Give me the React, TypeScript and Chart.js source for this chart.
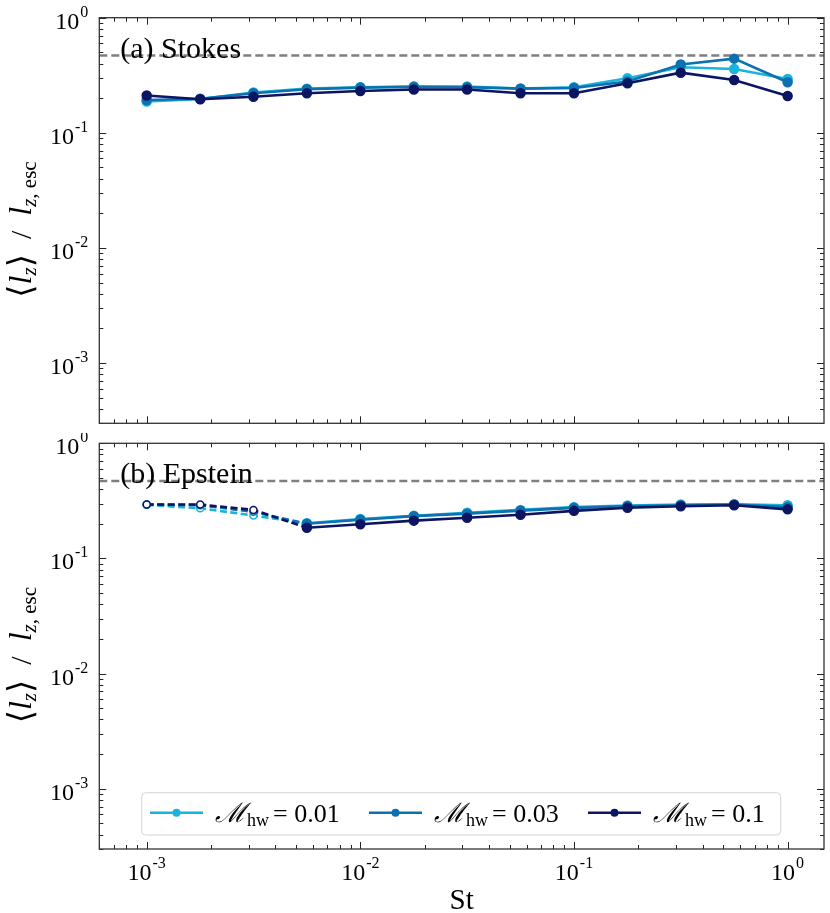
import React, { useRef, useEffect } from "react";
import Chart from "chart.js/auto";

// Stokes number grid (shared by both panels)
const stValues = [0.001, 0.00178, 0.00316, 0.00562, 0.01, 0.0178, 0.0316, 0.0562, 0.1, 0.178, 0.316, 0.562, 1];

const machLabels = ["0.01", "0.03", "0.1"];
const seriesColors = ["#19b4dc", "#0b71b0", "#0c1562"];

// (a) Stokes
const stokesM001 = [0.187, 0.197, 0.224, 0.242, 0.249, 0.252, 0.252, 0.243, 0.249, 0.298, 0.371, 0.359, 0.294];
const stokesM003 = [0.193, 0.198, 0.221, 0.239, 0.247, 0.251, 0.249, 0.242, 0.245, 0.279, 0.392, 0.441, 0.275];
const stokesM01 = [0.211, 0.196, 0.206, 0.221, 0.231, 0.238, 0.238, 0.221, 0.221, 0.27, 0.333, 0.288, 0.209];

// (b) Epstein (first three points are open markers, dashed)
const epsteinM001 = [0.292, 0.273, 0.236, 0.202, 0.22, 0.235, 0.249, 0.264, 0.279, 0.288, 0.294, 0.296, 0.29];
const epsteinM003 = [0.294, 0.29, 0.254, 0.2, 0.217, 0.233, 0.245, 0.26, 0.275, 0.284, 0.29, 0.294, 0.279];
const epsteinM01 = [0.294, 0.294, 0.264, 0.185, 0.198, 0.213, 0.226, 0.24, 0.259, 0.276, 0.284, 0.29, 0.267];
const openPoints = 3;

const escapeRef = 0.47;
const xMin = 6e-4;
const xMax = 1.48;
const yMin = 3.0e-4;
const yMax = 1;
const xTickExps = [-3, -2, -1, 0];
const yTickExps = [0, -1, -2, -3];

const SERIF = '"Liberation Serif", "Times New Roman", "DejaVu Serif", serif';

const drawPow = (ctx: CanvasRenderingContext2D, exp: number, x: number, baseline: number, align: "center" | "right") => {
  ctx.font = `24px ${SERIF}`;
  const w1 = ctx.measureText("10").width;
  ctx.font = `16px ${SERIF}`;
  const expText = exp < 0 ? `-${-exp}` : `${exp}`;
  const w2 = ctx.measureText(expText).width;
  const total = w1 + w2 + 1;
  const start = align === "center" ? x - total / 2 : x - total;
  ctx.textAlign = "left";
  ctx.textBaseline = "alphabetic";
  ctx.font = `24px ${SERIF}`;
  ctx.fillText("10", start, baseline);
  ctx.font = `16px ${SERIF}`;
  ctx.fillText(expText, start + w1 + 1, baseline - 12);
};

const drawPieces = (ctx: CanvasRenderingContext2D, pieces: { t: string; font: string; dy: number }[], cx: number) => {
  let total = 0;
  for (const p of pieces) {
    ctx.font = p.font;
    total += ctx.measureText(p.t).width;
  }
  let x = cx - total / 2;
  ctx.textAlign = "left";
  ctx.textBaseline = "alphabetic";
  for (const p of pieces) {
    ctx.font = p.font;
    ctx.fillText(p.t, x, p.dy);
    x += ctx.measureText(p.t).width;
  }
};

const makeFramePlugin = (panelLabel: string, showXLabels: boolean, showLegend: boolean) => ({
  id: "frame",
  afterDraw(chart: any) {
    const { ctx, chartArea: a, scales } = chart;
    const x = scales.x;
    const y = scales.y;
    ctx.save();
    ctx.strokeStyle = "#222";
    ctx.lineWidth = 1;
    ctx.beginPath();
    for (let e = -4; e <= 1; e++) {
      for (let m = 1; m <= 9; m++) {
        const v = m * Math.pow(10, e);
        if (v >= xMin && v <= xMax) {
          const px = Math.round(x.getPixelForValue(v)) + 0.5;
          const len = m === 1 ? 7 : 4;
          ctx.moveTo(px, a.bottom);
          ctx.lineTo(px, a.bottom - len);
          ctx.moveTo(px, a.top);
          ctx.lineTo(px, a.top + len);
        }
        if (v >= yMin && v <= yMax) {
          const py = Math.round(y.getPixelForValue(v)) + 0.5;
          const len = m === 1 ? 7 : 4;
          ctx.moveTo(a.left, py);
          ctx.lineTo(a.left + len, py);
          ctx.moveTo(a.right, py);
          ctx.lineTo(a.right - len, py);
        }
      }
    }
    ctx.stroke();
    ctx.lineWidth = 1.3;
    ctx.strokeStyle = "#333";
    ctx.strokeRect(a.left, a.top, a.right - a.left, a.bottom - a.top);

    ctx.fillStyle = "#000";
    for (const e of yTickExps) {
      const py = y.getPixelForValue(Math.pow(10, e));
      drawPow(ctx, e, a.left - 11, py + 11, "right");
    }
    if (showXLabels) {
      for (const e of xTickExps) {
        const px = x.getPixelForValue(Math.pow(10, e));
        drawPow(ctx, e, px, a.bottom + 31, "center");
      }
      ctx.font = `29px ${SERIF}`;
      ctx.textAlign = "center";
      ctx.fillText("St", (a.left + a.right) / 2, a.bottom + 60);
    }

    // panel label
    ctx.font = `30px ${SERIF}`;
    ctx.textAlign = "left";
    ctx.fillText(panelLabel, a.left + 21, a.top + 40);

    // y-axis title
    ctx.save();
    ctx.translate(31, (a.top + a.bottom) / 2 + 9);
    ctx.rotate(-Math.PI / 2);
    const big = `34px ${SERIF}`;
    const bigI = `italic 32px ${SERIF}`;
    const mid = `30px ${SERIF}`;
    const subI = `italic 21px ${SERIF}`;
    const sub = `21px ${SERIF}`;
    drawPieces(
      ctx,
      [
        { t: "⟨", font: big, dy: 1 },
        { t: "l", font: bigI, dy: 0 },
        { t: "z", font: subI, dy: 5 },
        { t: "⟩", font: big, dy: 1 },
        { t: "  /  ", font: mid, dy: 0 },
        { t: "l", font: bigI, dy: 0 },
        { t: "z", font: subI, dy: 5 },
        { t: ", esc", font: sub, dy: 5 },
      ],
      0
    );
    ctx.restore();

    if (showLegend) {
      const bx = a.left + 42.4;
      const by = a.bottom - 56.3;
      const bw = 639;
      const bh = 42.3;
      ctx.beginPath();
      ctx.roundRect(bx, by, bw, bh, 4);
      ctx.fillStyle = "rgba(255,255,255,0.85)";
      ctx.fill();
      ctx.strokeStyle = "#d4d4d4";
      ctx.lineWidth = 1;
      ctx.stroke();
      const ly = by + 20;
      machLabels.forEach((lab, i) => {
        const x0 = bx + 8.3 + i * 219;
        ctx.strokeStyle = seriesColors[i];
        ctx.lineWidth = 2.6;
        ctx.beginPath();
        ctx.moveTo(x0, ly);
        ctx.lineTo(x0 + 53, ly);
        ctx.stroke();
        ctx.fillStyle = seriesColors[i];
        ctx.beginPath();
        ctx.arc(x0 + 26.5, ly, 4, 0, Math.PI * 2);
        ctx.fill();
        ctx.fillStyle = "#000";
        let tx = x0 + 65;
        const base = ly + 9;
        ctx.textAlign = "left";
        ctx.font = `italic 27px ${SERIF}`;
        ctx.fillText("ℳ", tx, base);
        tx += ctx.measureText("ℳ").width + 1;
        ctx.font = `18px ${SERIF}`;
        ctx.fillText("hw", tx, base + 4);
        tx += ctx.measureText("hw").width + 4;
        ctx.font = `26px ${SERIF}`;
        ctx.fillText("= " + lab, tx, base);
      });
    }
    ctx.restore();
  },
});

const buildDatasets = (series: number[][], dashedOpen: boolean) => {
  const sets: any[] = series.map((vals, i) => ({
    label: `M_hw = ${machLabels[i]}`,
    data: stValues.map((s, j) => ({ x: s, y: vals[j] })),
    borderColor: seriesColors[i],
    backgroundColor: seriesColors[i],
    borderWidth: 2.6,
    pointRadius: dashedOpen ? stValues.map((_, j) => (j < openPoints ? 3.5 : 4.5)) : 4.5,
    pointBorderWidth: 1.5,
    pointBackgroundColor: dashedOpen
      ? stValues.map((_, j) => (j < openPoints ? "#ffffff" : seriesColors[i]))
      : seriesColors[i],
    pointBorderColor: seriesColors[i],
    tension: 0,
    order: 3 - i,
    segment: dashedOpen
      ? { borderDash: (c: any) => (c.p0DataIndex < openPoints ? [7, 3.5] : undefined) }
      : undefined,
  }));
  sets.push({
    label: "escape",
    data: [
      { x: xMin, y: escapeRef },
      { x: xMax, y: escapeRef },
    ],
    borderColor: "#7f7f7f",
    borderDash: [8, 4],
    borderWidth: 2.4,
    pointRadius: 0,
    order: 5,
  });
  return sets;
};

const Panel: React.FC<{
  series: number[][];
  label: string;
  dashedOpen: boolean;
  bottom: boolean;
  height: number;
  top: number;
  padding: { left: number; right: number; top: number; bottom: number };
}> = ({ series, label, dashedOpen, bottom, height, top, padding }) => {
  const canvasRef = useRef<HTMLCanvasElement>(null);
  const chartRef = useRef<Chart | null>(null);

  useEffect(() => {
    if (!canvasRef.current) return;
    if (chartRef.current) chartRef.current.destroy();
    const ctx = canvasRef.current.getContext("2d");
    if (!ctx) return;

    chartRef.current = new Chart(ctx, {
      type: "line",
      data: { datasets: buildDatasets(series, dashedOpen) },
      options: {
        animation: false,
        responsive: false,
        parsing: false,
        layout: { padding },
        plugins: { legend: { display: false }, tooltip: { enabled: false } },
        scales: {
          x: { type: "logarithmic", min: xMin, max: xMax, display: false },
          y: { type: "logarithmic", min: yMin, max: yMax, display: false },
        },
      },
      plugins: [makeFramePlugin(label, bottom, bottom)],
    } as any);

    return () => {
      if (chartRef.current) {
        chartRef.current.destroy();
        chartRef.current = null;
      }
    };
  }, []);

  return (
    <canvas
      ref={canvasRef}
      width={830}
      height={height}
      style={{ position: "absolute", left: 0, top, width: 830, height }}
    />
  );
};

export default function App() {
  return (
    <div style={{ position: "absolute", left: 0, top: 0, width: 830, height: 913, background: "#fff" }}>
      <Panel
        series={[stokesM001, stokesM003, stokesM01]}
        label="(a) Stokes"
        dashedOpen={false}
        bottom={false}
        height={433}
        top={0}
        padding={{ left: 99.3, right: 6, top: 17.7, bottom: 9.7 }}
      />
      <Panel
        series={[epsteinM001, epsteinM003, epsteinM01]}
        label="(b) Epstein"
        dashedOpen={true}
        bottom={true}
        height={480}
        top={433}
        padding={{ left: 99.3, right: 6, top: 10.3, bottom: 64 }}
      />
    </div>
  );
}
